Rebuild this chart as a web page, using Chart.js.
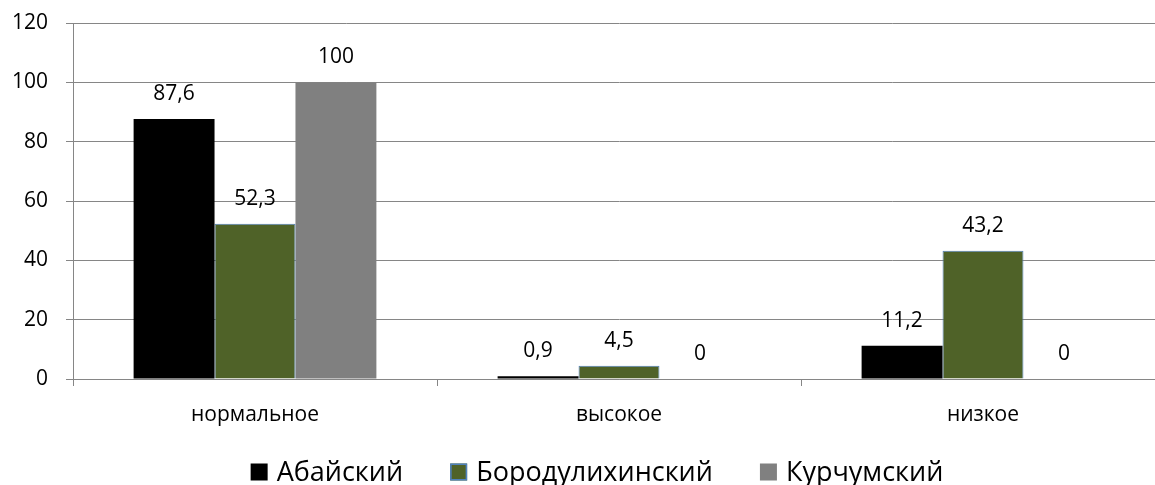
<!DOCTYPE html>
<html>
<head>
<meta charset="utf-8">
<script src="https://cdn.jsdelivr.net/npm/chart.js@4/dist/chart.umd.min.js"></script>
<style>
  html, body { margin: 0; padding: 0; background: #fff; overflow: hidden; }
  #wrap { width: 1155px; height: 485px; overflow: hidden; }
  canvas { display: block; }
</style>
</head>
<body>
<div id="wrap"><canvas id="chart" width="1194" height="485"></canvas></div>
<script>
// Categories and series values
const categories = ['нормальное', 'высокое', 'низкое'];
const seriesNames = ['Абайский', 'Бородулихинский', 'Курчумский'];
const abaiValues = [87.6, 0.9, 11.2];
const borodulikhaValues = [52.3, 4.5, 43.2];
const kurchumValues = [100, 0, 0];
const yTicks = [0, 20, 40, 60, 80, 100, 120];

const FONT = '"Open Sans", "Noto Sans", sans-serif';
const GRID = '#868686';

// Value labels drawn above each bar
const valueLabels = {
  id: 'valueLabels',
  afterDatasetsDraw(chart) {
    const ctx = chart.ctx;
    ctx.save();
    ctx.font = '21px ' + FONT;
    ctx.fillStyle = '#000';
    ctx.textAlign = 'center';
    ctx.textBaseline = 'middle';
    chart.data.datasets.forEach((ds, di) => {
      const meta = chart.getDatasetMeta(di);
      meta.data.forEach((bar, i) => {
        const txt = String(ds.data[i]).replace('.', ',');
        ctx.fillText(txt, bar.x, bar.y - 25);
      });
    });
    ctx.restore();
  }
};

// Legend row centred under the chart: square swatch + series name
const bottomLegend = {
  id: 'bottomLegend',
  afterDraw(chart) {
    const ctx = chart.ctx;
    const box = 17, textGap = 9, itemGap = 47, cy = 472;
    ctx.save();
    ctx.font = '27px ' + FONT;
    ctx.textBaseline = 'middle';
    ctx.textAlign = 'left';
    const items = chart.data.datasets.map(ds => ({
      ds, w: box + textGap + ctx.measureText(ds.label).width
    }));
    const total = items.reduce((s, it) => s + it.w, 0) + itemGap * (items.length - 1);
    let x = chart.width / 2 - total / 2;
    items.forEach(({ ds, w }) => {
      ctx.fillStyle = ds.backgroundColor;
      ctx.fillRect(x, cy - box / 2, box, box);
      if (ds.borderWidth) {
        ctx.strokeStyle = ds.borderColor;
        ctx.lineWidth = 1.5;
        ctx.strokeRect(x + 0.75, cy - box / 2 + 0.75, box - 1.5, box - 1.5);
      }
      ctx.fillStyle = '#000';
      ctx.fillText(ds.label, x + box + textGap, cy + 1);
      x += w + itemGap;
    });
    ctx.restore();
  }
};

new Chart(document.getElementById('chart'), {
  type: 'bar',
  data: {
    labels: categories,
    datasets: [
      { label: seriesNames[0], data: abaiValues, backgroundColor: '#000000', borderWidth: 0 },
      { label: seriesNames[1], data: borodulikhaValues, backgroundColor: '#4F6228', borderColor: '#4F81BD', borderWidth: 1 },
      { label: seriesNames[2], data: kurchumValues, backgroundColor: '#808080', borderWidth: 0 }
    ]
  },
  options: {
    responsive: false,
    animation: false,
    devicePixelRatio: 1,
    layout: { padding: { top: 23, right: 29, left: 0, bottom: 46 } },
    datasets: { bar: { barPercentage: 1, categoryPercentage: 0.667 } },
    plugins: {
      legend: { display: false },
      tooltip: { enabled: false }
    },
    scales: {
      x: {
        grid: { display: true, drawOnChartArea: false, drawTicks: true, tickLength: 7, color: GRID, offset: true },
        border: { display: true, color: GRID, width: 1 },
        ticks: { color: '#000', font: { family: FONT, size: 21 }, padding: 16 },
        afterFit(scale) { scale.height = 60; }
      },
      y: {
        min: 0,
        max: 120,
        afterBuildTicks(scale) { scale.ticks = yTicks.map(v => ({ value: v })); },
        grid: { color: GRID, lineWidth: 1, drawTicks: true, tickLength: 7 },
        border: { display: true, color: GRID, width: 1 },
        ticks: { color: '#000', font: { family: FONT, size: 21, lineHeight: 0.4 }, padding: 18 },
        afterFit(scale) { scale.width = 73; }
      }
    }
  },
  plugins: [valueLabels, bottomLegend]
});
</script>
</body>
</html>
